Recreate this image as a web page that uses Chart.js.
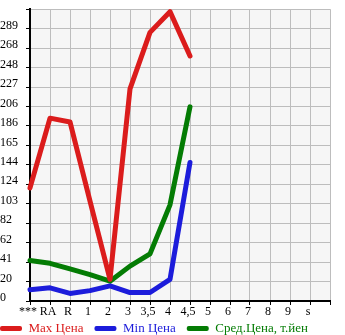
<!DOCTYPE html>
<html>
<head>
<meta charset="utf-8">
<script src="https://cdn.jsdelivr.net/npm/chart.js@4"></script>
<style>
  body { margin: 0; background: #fff; }
  #wrap { width: 345px; height: 335px; }
</style>
</head>
<body>
<div id="wrap"><canvas id="chart" width="345" height="335"></canvas></div>
<script>
// categories (last one empty, just closes the grid)
const categories = ['***', 'RA', 'R', '1', '2', '3', '3,5', '4', '4,5', '5', '6', '7', '8', '9', 's', ''];
const maxPrice = [120, 194, 190, 106, 23, 225, 285, 307, 260];
const minPrice = [12, 14, 8, 11, 16, 9, 9, 23, 147];
const avgPrice = [43, 40, 34, 28, 21, 37, 50, 102, 206];
const seriesNames = ['Max Цена', 'Min Цена', 'Сред.Цена, т.йен'];
const yTickLabels = ['0', '20', '41', '62', '82', '103', '124', '144', '165', '186', '206', '227', '248', '268', '289', ''];
const yStep = 20.64;

const colors = ['#db1c1c', '#1c1cdb', '#047c04'];

const plotBg = {
  id: 'plotBg',
  beforeDraw(chart) {
    const a = chart.chartArea, c = chart.ctx;
    c.save();
    c.fillStyle = '#f6f6f6';
    c.fillRect(a.left, a.top, a.right - a.left, a.bottom - a.top);
    c.restore();
  },
  afterLayout(chart) {
    // legend starts at the very left edge
    chart.legend.left -= 11;
    chart.legend.right -= 11;
  }
};

function renderChart() {
  const ctx = document.getElementById('chart').getContext('2d');
  new Chart(ctx, {
    type: 'line',
    data: {
      labels: categories,
      datasets: [maxPrice, minPrice, avgPrice].map((d, i) => ({
        label: seriesNames[i],
        data: d,
        borderColor: colors[i],
        backgroundColor: colors[i],
        borderWidth: 5,
        pointRadius: 0,
        tension: 0,
        borderCapStyle: 'round',
        borderJoinStyle: 'round',
        clip: false
      }))
    },
    options: {
      responsive: false,
      animation: false,
      layout: { padding: { left: 0, right: 15, top: 0, bottom: -10 } },
      plugins: {
        tooltip: { enabled: false },
        legend: {
          position: 'bottom',
          align: 'start',
          labels: {
            boxWidth: 22,
            boxHeight: 5,
            padding: 11,
            font: { family: 'Liberation Serif', size: 13 },
            generateLabels(chart) {
              return chart.data.datasets.map((ds, i) => ({
                text: ds.label,
                fillStyle: ds.borderColor,
                strokeStyle: ds.borderColor,
                fontColor: ds.borderColor,
                lineWidth: 0,
                borderRadius: 2,
                datasetIndex: i
              }));
            }
          }
        }
      },
      scales: {
        x: {
          offset: false,
          afterFit(s) {
            s.height = 10;
            s._computeLabelArea = () => undefined; // don't clip labels to the short box
          },
          grid: { color: '#bdbdbd', lineWidth: 1, tickLength: 4, tickColor: '#000' },
          border: { color: '#000', width: 2 },
          ticks: {
            autoSkip: false, maxRotation: 0, padding: 0, labelOffset: -2,
            color: '#000', font: { family: 'Liberation Serif', size: 12 }
          }
        },
        y: {
          min: 0,
          max: yStep * (yTickLabels.length - 1),
          afterFit(s) { s.width = 30; },
          afterBuildTicks(s) { s.ticks = yTickLabels.map((t, i) => ({ value: i * yStep })); },
          grid: { color: '#bdbdbd', lineWidth: 1, tickLength: 4, tickColor: '#000' },
          border: { color: '#000', width: 2 },
          ticks: {
            crossAlign: 'far', padding: 2, labelOffset: -3,
            color: '#000', font: { family: 'Liberation Serif', size: 12 },
            callback(v, i) { return yTickLabels[i]; }
          }
        }
      }
    },
    plugins: [plotBg]
  });
}
renderChart();
</script>
</body>
</html>
